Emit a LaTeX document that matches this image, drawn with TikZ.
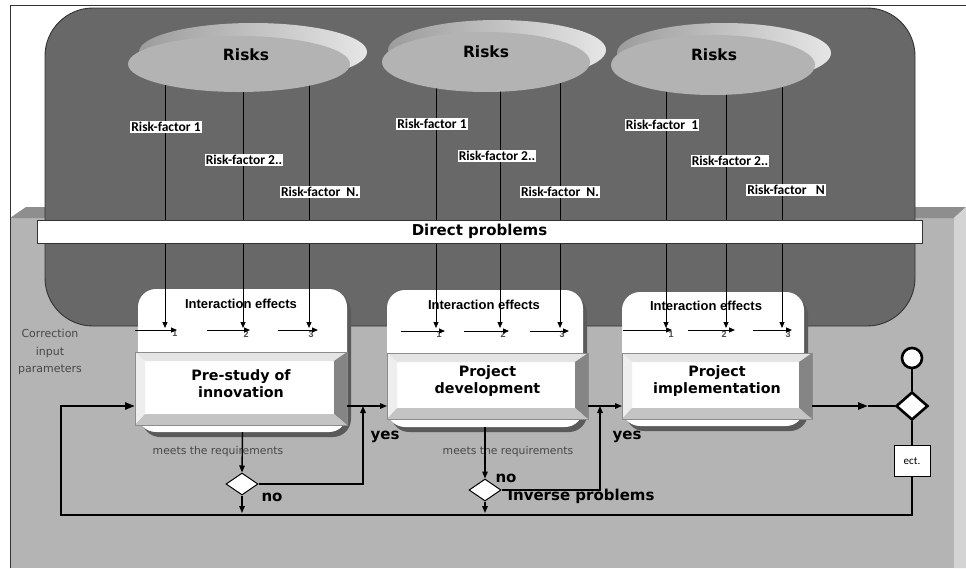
\documentclass[tikz,border=0pt]{standalone}
\usepackage{fontspec}
\setmainfont{DejaVu Sans}
\newfontfamily\carl{Carlito}
\newfontfamily\lib{Liberation Sans}
\usetikzlibrary{shapes.geometric,arrows.meta}
\definecolor{bggray}{HTML}{B4B4B4}
\definecolor{topgray}{HTML}{8E8E8E}
\definecolor{sidegray}{HTML}{D4D4D4}
\definecolor{darkshape}{HTML}{686868}
\definecolor{ellfill}{HTML}{B3B3B3}
\definecolor{rimL}{HTML}{9C9C9C}
\definecolor{rimR}{HTML}{E6E6E6}
\definecolor{shadowgray}{HTML}{5A5A5A}
\definecolor{bevtop}{HTML}{E4E4E4}
\definecolor{bevleft}{HTML}{EEEEEE}
\definecolor{bevright}{HTML}{858585}
\definecolor{bevbot}{HTML}{C4C4C4}
\definecolor{softtext}{HTML}{484848}

\newcommand\procbox[6]{%
  \node[procnode, minimum width={#4-#2}, minimum height={#5-#3-10}] (#1) at ({(#2+#4)/2},{(#3+#5-10)/2}) {#6};
  \fill[bevtop] (#2,#3) -- (#4,#3) -- ({#4-13},{#3+9}) -- ({#2+10},{#3+9}) -- cycle;
  \fill[bevleft] (#2,#3) -- ({#2+10},{#3+9}) -- ({#2+10},{#5-11}) -- (#2,#5) -- cycle;
  \fill[bevright] (#4,#3) -- (#4,#5) -- ({#4-13},{#5-11}) -- ({#4-13},{#3+9}) -- cycle;
  \fill[bevbot] (#2,#5) -- (#4,#5) -- ({#4-13},{#5-11}) -- ({#2+10},{#5-11}) -- cycle;
  \draw[bevline] (#2,#3) rectangle (#4,#5);
}
\newcommand\intbox[5]{%
  \fill[shadowgray, rounded corners=18] ({#2+4},{#3+5}) rectangle ({#4+4},{#5+5});
  \node[intnode, minimum width={#4-#2}, minimum height={#5-#3}] (#1) at ({(#2+#4)/2},{(#3+#5)/2}) {};
}

\begin{document}
\begin{tikzpicture}[x=1pt,y=-1pt,
  procnode/.style={fill=white, inner sep=0pt, outer sep=0pt, align=center, font=\bfseries\fontsize{14.3}{17}\selectfont},
  bevline/.style={draw=black!45, line width=0.5pt},
  intnode/.style={fill=white, rounded corners=18, inner sep=0pt, outer sep=0pt},
  inttext/.style={font=\lib\bfseries\fontsize{13}{13}\selectfont, inner sep=0pt},
  rimell/.style={ellipse, inner sep=0pt, left color=rimL, right color=rimR},
  frontell/.style={ellipse, inner sep=0pt, fill=ellfill},
  risktext/.style={font=\bfseries\fontsize{15.5}{16}\selectfont, inner sep=0pt},
  rflabel/.style={fill=white, inner sep=1pt, font=\carl\bfseries\fontsize{13.5}{14}\selectfont},
  riskarrow/.style={line width=1pt, -{Triangle[length=6pt,width=5pt]}},
  innerarrow/.style={line width=1pt, -{Triangle[length=6pt,width=5pt]}},
  numlab/.style={font=\lib\bfseries\fontsize{9}{9}\selectfont, text=black!70, inner sep=0pt},
  thinflow/.style={line width=1.4pt, -{Triangle[length=7pt,width=5.5pt]}},
  thickline/.style={line width=2.8pt},
  thickflow/.style={line width=2.8pt, -{Triangle[length=10pt,width=7pt]}},
  decision/.style={diamond, draw, fill=white, inner sep=0pt, line width=1pt},
  softlab/.style={font=\fontsize{10.8}{10.8}\selectfont, text=softtext, inner sep=0pt},
  cornerlab/.style={font=\fontsize{11}{17.5}\selectfont, text=softtext, inner sep=0pt, align=center},
  flowlab/.style={font=\bfseries\fontsize{15}{15}\selectfont, inner sep=0pt}
]
\useasboundingbox (0,0) rectangle (966,568);

% background and 3D base
\fill[white] (0,0) rectangle (966,568);
\fill[bggray] (10,218) rectangle (954,568);
\fill[topgray] (10,218) -- (26,207) -- (966,207) -- (954,218) -- cycle;
\fill[sidegray] (954,218) -- (966,207) -- (966,568) -- (954,568) -- cycle;
\draw[line width=1pt, black!80] (10,568) -- (10,5) -- (966,5);

% dark rounded region
\draw[fill=darkshape, draw=black!80, line width=0.9pt, rounded corners=48] (45,8) rectangle (915,326);

% interaction boxes
\intbox{i1}{138}{289}{347}{432}
\intbox{i2}{387}{290}{583}{427}
\intbox{i3}{622}{292}{804}{426}
\node[inttext] (ie1) at (241,304) {Interaction effects};
\node[inttext] (ie2) at (484,305) {Interaction effects};
\node[inttext] (ie3) at (706,306) {Interaction effects};

% process boxes
\procbox{p1}{135}{352}{347}{425}{Pre-study of\\innovation}
\procbox{p2}{387}{353}{588}{419}{Project\\development}
\procbox{p3}{622}{353}{812}{419}{Project\\implementation}

% numbers at interaction points
\foreach \n/\x/\y/\t in {11/175/333/1, 12/246/334/2, 13/311/334/3,
                         21/439/334/1, 22/503/334/2, 23/562/334/3,
                         31/671/334/1, 32/724/334/2, 33/788/334/3}
  \node[numlab] (num\n) at (\x,\y) {\t};

% risk factor lines
\foreach \n/\x in {11/165, 12/243, 13/309, 21/436, 22/500, 23/560, 31/666, 32/726, 33/782} {
  \coordinate (rtop\n) at (\x,75);
  \coordinate (rbot\n) at (\x,328);
  \draw[riskarrow] (rtop\n) -- (rbot\n);
}

% internal interaction arrows
\foreach \n/\xa/\xb/\y in {11/135/177/330, 12/207/250/330, 13/278/318/330,
                           21/401/445/331, 22/464/509/331, 23/530/569/331,
                           31/623/672/330, 32/688/735/330, 33/753/792/330} {
  \coordinate (ias\n) at (\xa,\y);
  \coordinate (iae\n) at (\xb,\y);
  \draw[innerarrow] (ias\n) -- (iae\n);
}

% risk ellipses
\node[rimell, minimum width=228, minimum height=58] (rim1) at (253,52) {};
\node[frontell, minimum width=222, minimum height=56] (re1) at (239,64) {};
\node[rimell, minimum width=218, minimum height=60] (rim2) at (497,50) {};
\node[frontell, minimum width=208, minimum height=60] (re2) at (486,62) {};
\node[rimell, minimum width=214, minimum height=60] (rim3) at (724,53) {};
\node[frontell, minimum width=204, minimum height=60] (re3) at (713,65) {};
\node[risktext] (rk1) at (246,55) {Risks};
\node[risktext] (rk2) at (486,52) {Risks};
\node[risktext] (rk3) at (714,55) {Risks};

% direct problems bar
\node[draw=black!80, fill=white, minimum width=885, minimum height=23, inner sep=0pt,
      font=\bfseries\fontsize{15}{15}\selectfont] (dp) at (479.5,231.5) {Direct problems};

% risk factor labels
\node[rflabel] (rf11) at (166,127) {Risk-factor 1};
\node[rflabel] (rf12) at (244,160) {Risk-factor 2..};
\node[rflabel] (rf13) at (320,192) {Risk-factor\ \ N.};
\node[rflabel] (rf21) at (432,124) {Risk-factor 1};
\node[rflabel] (rf22) at (497,156) {Risk-factor 2..};
\node[rflabel] (rf23) at (560,192) {Risk-factor\ \ N.};
\node[rflabel] (rf31) at (662,125) {Risk-factor\ \ 1};
\node[rflabel] (rf32) at (730,161) {Risk-factor 2..};
\node[rflabel] (rf33) at (786,190) {Risk-factor\ \ \ N};

% text labels of the flow
\node[cornerlab] (cip) at (50,352) {Correction\\input\\parameters};
\node[softlab] (mr1) at (218,452) {meets the requirements};
\node[softlab] (mr2) at (508,452) {meets the requirements};
\node[flowlab] (yes1) at (385,437) {yes};
\node[flowlab] (yes2) at (627,437) {yes};
\node[flowlab] (no1) at (272,497) {no};
\node[flowlab] (no2) at (506,478) {no};
\node[flowlab] (inv) at (581,496) {Inverse problems};

% decisions and end
\node[decision, minimum width=32, minimum height=22] (d1) at (242,484) {};
\node[decision, minimum width=32, minimum height=22] (d2) at (485,490) {};
\node[diamond, draw, fill=white, inner sep=0pt, line width=2.6pt, minimum width=32, minimum height=28] (dR) at (912,406) {};
\node[circle, draw, fill=white, line width=2.6pt, minimum size=20, inner sep=0pt] (oc) at (912,358) {};
\node[draw, fill=white, line width=1pt, minimum width=36, minimum height=31, inner sep=0pt,
      font=\carl\fontsize{11}{11}\selectfont] (ect) at (912,461) {ect.};

% flow coordinates
\coordinate (flowy) at (0,406);
\coordinate (tipy) at (0,513);
\coordinate (lb) at (61,515);
\coordinate (j1) at (363,406);
\coordinate (j2) at (600,406);
\coordinate (mid) at (868,406);

% flow connectors
\draw[thinflow] (p1.east |- flowy) -- (p2.west |- flowy);
\draw[thinflow] (p2.east |- flowy) -- (p3.west |- flowy);
\draw[thickflow] (p3.east |- flowy) -- (mid);
\draw[thickline] (mid) -- (dR.west);
\draw[thickline] (oc.south) -- (dR.north);
\draw[thickline] (dR.south) -- (ect.north);
\draw[thickflow] (ect.south) |- (lb) |- (p1.west |- flowy);

\draw[thinflow] (i1.south) -- (d1.north);
\draw[thinflow] (d1.east) -| (j1);
\draw[thinflow] (d1.south) -- (d1.south |- tipy);
\draw[thinflow] (i2.south -| d2) -- (d2.north);
\draw[thinflow] (d2.east) -| (j2);
\draw[thinflow] (d2.south) -- (d2.south |- tipy);
\end{tikzpicture}
\end{document}
